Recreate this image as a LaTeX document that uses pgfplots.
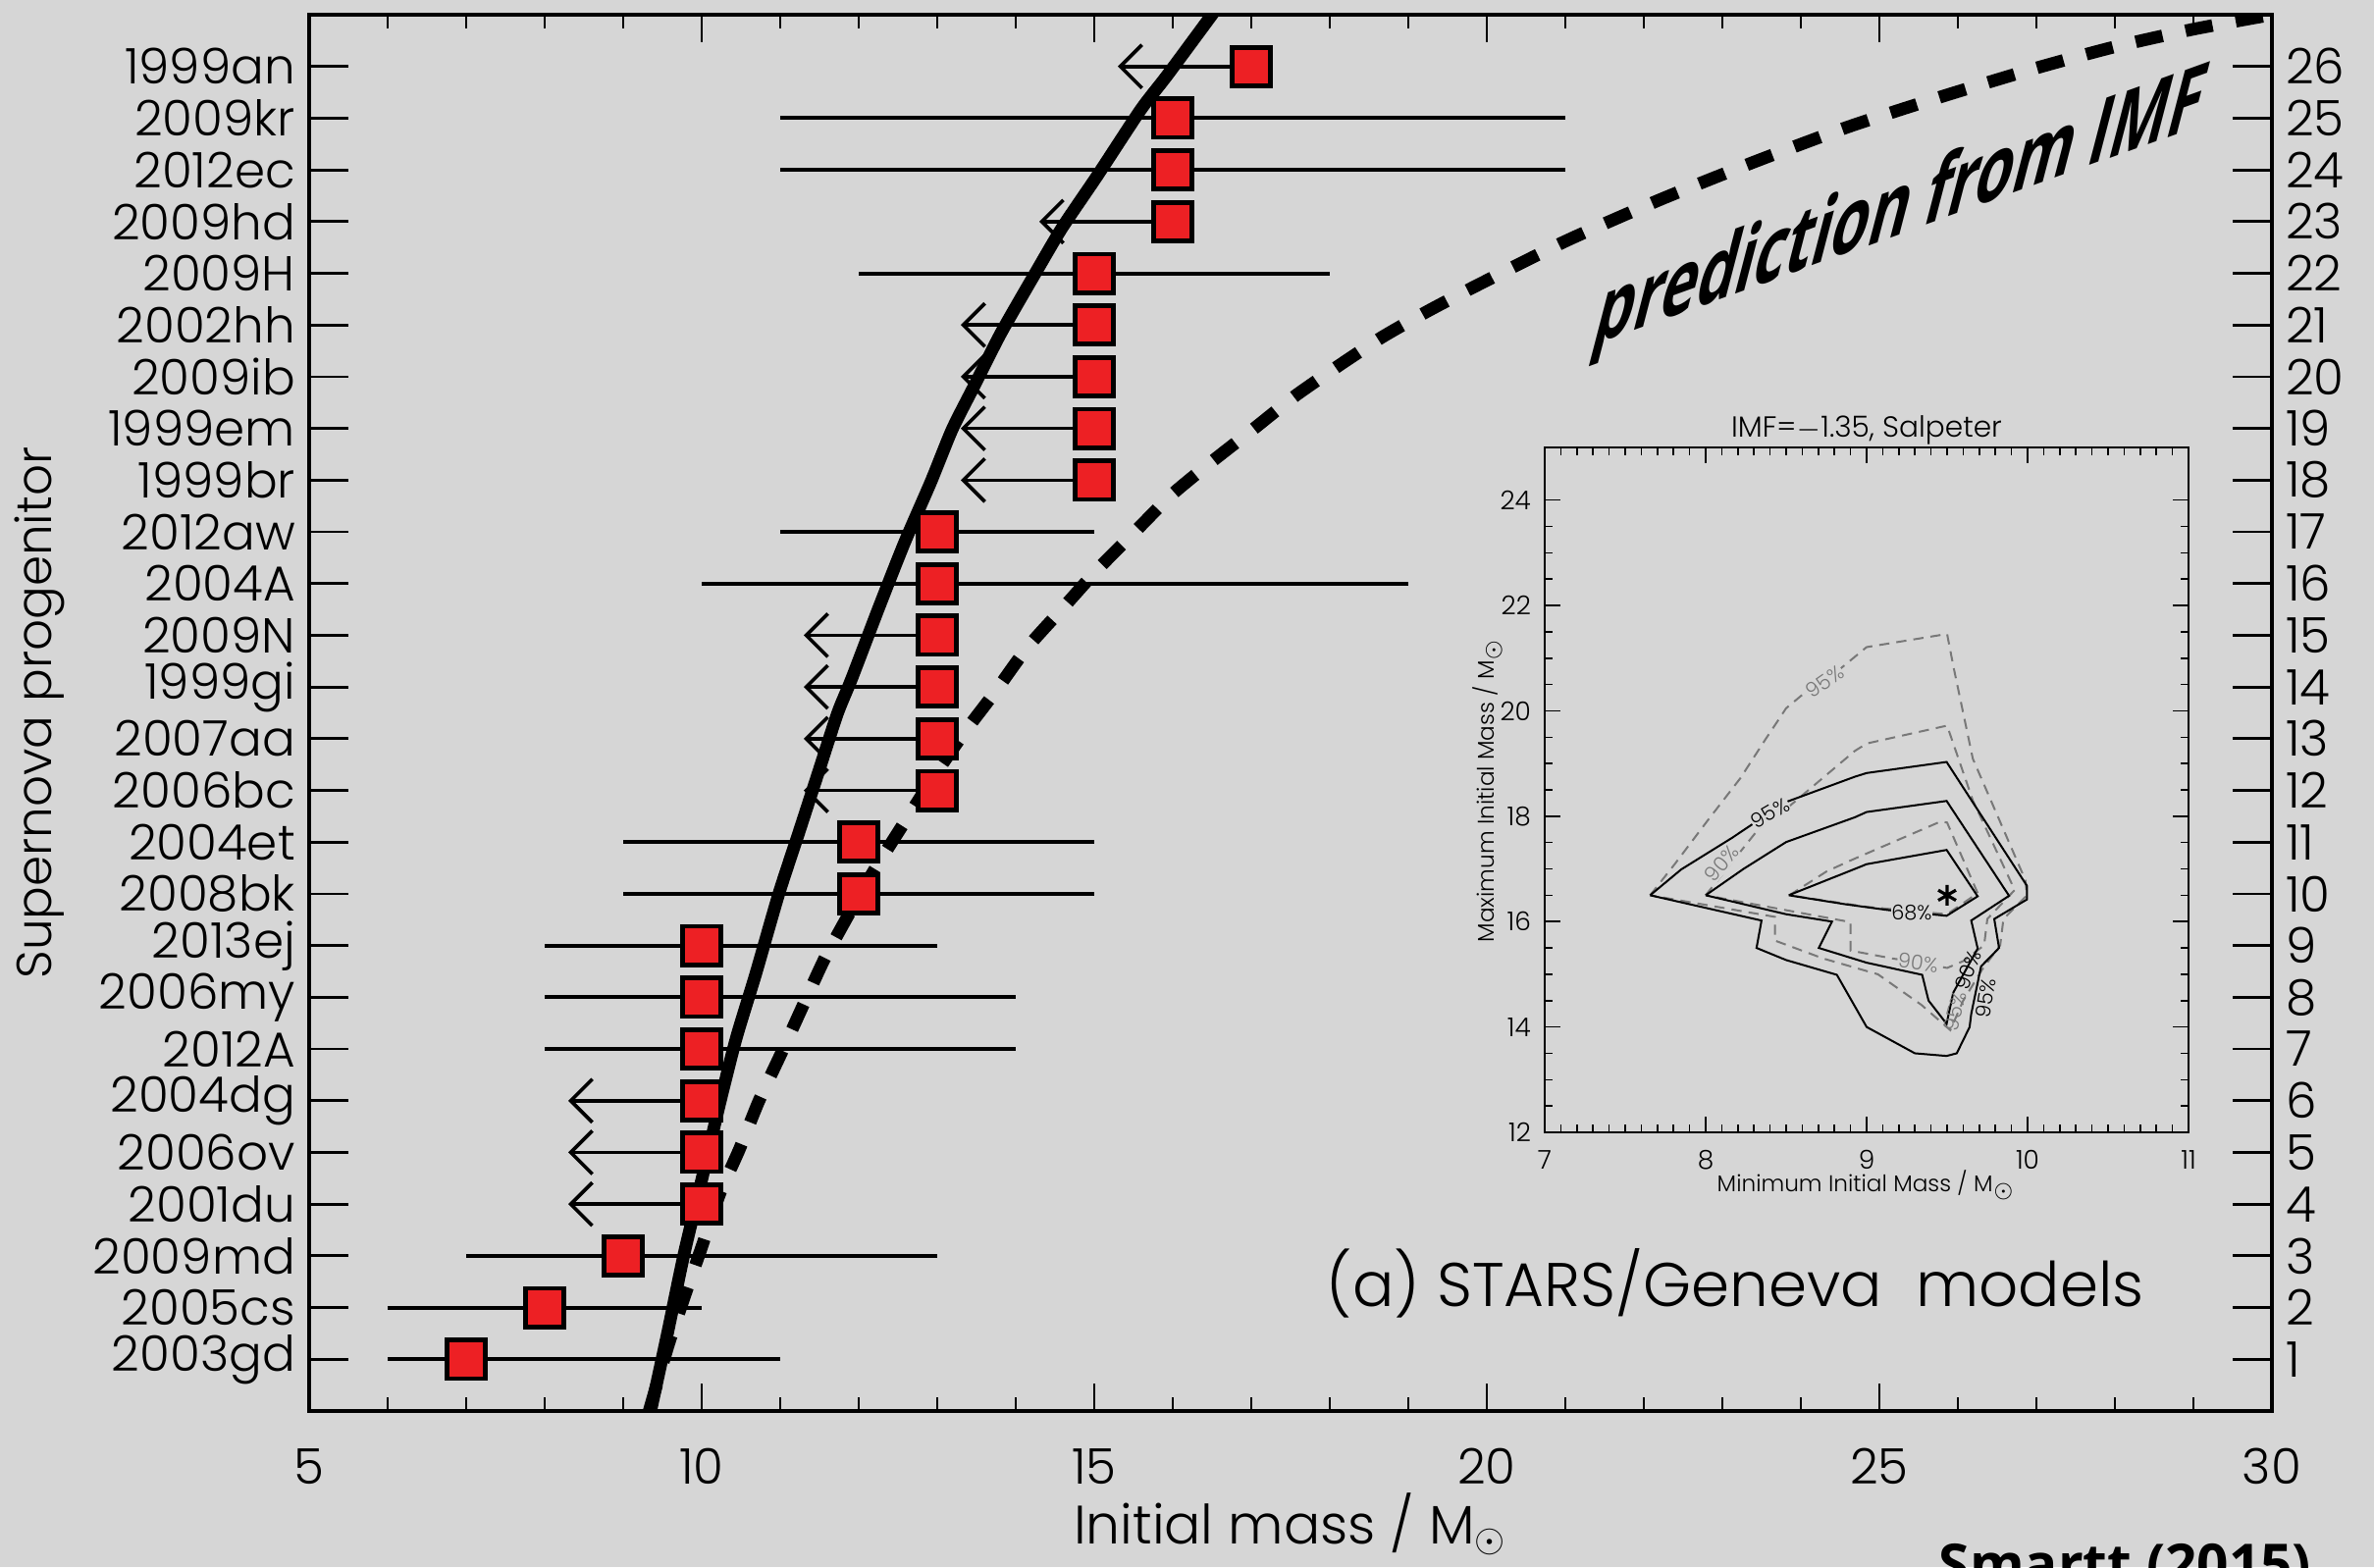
\documentclass[border=0pt]{standalone}
\usepackage{pgfplots}
\pgfplotsset{compat=1.18}
\usepackage{fontspec}
\setmainfont{Poppins Light}
\newfontfamily\osans{Open Sans}
\usetikzlibrary{arrows.meta}
\definecolor{bg}{RGB}{214,214,214}
\definecolor{sqred}{RGB}{237,32,36}
\definecolor{cgray}{RGB}{120,120,120}
\begin{document}
\begin{tikzpicture}
\fill[bg] (0,0) rectangle (604.75pt,399.25pt);
\useasboundingbox (0,0) rectangle (604.75pt,399.25pt);
% ---------------- main axis ----------------
\begin{axis}[
  at={(78.75pt,39.75pt)}, anchor=south west,
  width=500pt, height=355.75pt, scale only axis,
  xmin=5, xmax=30, ymin=0, ymax=27,
  xtick={5,10,15,20,25,30}, minor x tick num=4,
  ytick={1,...,26},
  yticklabels={2003gd,2005cs,2009md,2001du,2006ov,2004dg,2012A,2006my,2013ej,2008bk,2004et,2006bc,2007aa,1999gi,2009N,2004A,2012aw,1999br,1999em,2009ib,2002hh,2009H,2009hd,2012ec,2009kr,1999an},
  tick align=inside, tick pos=both,
  xticklabel pos=bottom, yticklabel pos=left,
  major tick length=10pt,
  tick style={black, line width=0.7pt},
  xtick style={/pgfplots/major tick length=7pt, /pgfplots/minor tick length=3.5pt},
  axis line style={line width=0.8pt},
  tick label style={font=\fontsize{12.5}{14}\selectfont},
  /pgf/number format/assume math mode=true,
  xticklabel style={yshift=-6pt},
  xlabel={Initial mass / M$_\odot$},
  ylabel={Supernova progenitor},
  label style={font=\fontsize{12.5}{14}\selectfont},
  xlabel style={font=\fontsize{13.8}{15}\selectfont, at={(axis description cs:0.5,-0.0949)}, anchor=base},
  ylabel style={at={(axis description cs:-0.1375,0.5)}, anchor=center},
]
% prediction from IMF (dashed)
\addplot[black, line width=3.2pt, dash pattern=on 7pt off 6pt, smooth, tension=0.4] coordinates {
(9.33,0) (9.58,1.3) (9.80,2.3) (10.0,3.17) (10.23,4.2) (10.48,5.06) (10.73,6.0) (11.02,6.94) (11.29,7.84) (11.56,8.73) (11.85,9.54) (12.19,10.44) (12.56,11.33) (12.94,12.23) (13.35,13.13) (13.73,13.89) (14.14,14.75) (14.59,15.51) (15.04,16.27) (15.51,16.99) (15.98,17.71) (16.49,18.35) (17.02,18.98) (17.55,19.62) (18.11,20.21) (18.66,20.76) (19.25,21.27) (19.88,21.77) (21.0,22.62) (22.2,23.42) (23.4,24.15) (24.6,24.83) (25.8,25.42) (27.0,25.97) (28.0,26.38) (29.0,26.72) (30.0,27.0)};
% fitted cumulative (solid)
\addplot[black, line width=3.2pt, smooth, tension=0.4] coordinates {
(9.35,0) (9.56,1.47) (9.77,3.0) (9.98,4.34) (10.23,5.95) (10.44,7.21) (10.69,8.46) (10.98,9.99) (11.23,11.15) (11.48,12.32) (11.73,13.49) (11.91,14.16) (12.25,15.51) (12.58,16.78) (12.92,17.97) (13.19,18.98) (13.47,19.82) (13.81,20.84) (14.26,22.03) (14.59,22.88) (15.04,23.89) (15.59,25.16) (15.93,25.83) (16.49,26.98) (16.55,27.1)};
% two-sided error bars
\addplot[black, line width=1pt, unbounded coords=jump] table {
x y
11 25
21 25
nan nan
11 24
21 24
nan nan
12 22
18 22
nan nan
11 17
15 17
nan nan
10 16
19 16
nan nan
9 11
15 11
nan nan
9 10
15 10
nan nan
8 9
13 9
nan nan
8 8
14 8
nan nan
8 7
14 7
nan nan
7 3
13 3
nan nan
6 2
10 2
nan nan
6 1
11 1
};
% squares
\addplot[only marks, mark=square*, mark size=4.9pt, mark options={fill=sqred, draw=black, line width=1.2pt}] table {
x y
17 26
16 25
16 24
16 23
15 22
15 21
15 20
15 19
15 18
13 17
13 16
13 15
13 14
13 13
13 12
12 11
12 10
10 9
10 8
10 7
10 6
10 5
10 4
9 3
8 2
7 1
};
% upper limits
\addplot[black, line width=0.9pt, -{Straight Barb[length=5.5pt,width=11pt]}, quiver={u=\thisrow{u}, v=0}] table {
x y u
17 26 -1.7
16 23 -1.7
15 21 -1.7
15 20 -1.7
15 19 -1.7
15 18 -1.7
13 15 -1.7
13 14 -1.7
13 13 -1.7
13 12 -1.7
10 6 -1.7
10 5 -1.7
10 4 -1.7
};
\end{axis}
% ---------------- right-hand numbers ----------------
\begin{axis}[
  at={(78.75pt,39.75pt)}, anchor=south west,
  width=500pt, height=355.75pt, scale only axis,
  xmin=5, xmax=30, ymin=0, ymax=27,
  hide x axis, axis y line*=right,
  axis line style={draw=none},
  ytick={1,...,26}, yticklabel pos=right,
  ytick style={draw=none},
  tick label style={font=\fontsize{12.5}{14}\selectfont},
  /pgf/number format/assume math mode=true,
]
\end{axis}
% ---------------- inset ----------------
\begin{axis}[
  at={(393.5pt,110.75pt)}, anchor=south west,
  width=164pt, height=174.5pt, scale only axis,
  xmin=7, xmax=11, ymin=12, ymax=25,
  xtick={7,...,11}, minor x tick num=9,
  ytick={12,14,...,24}, minor y tick num=3,
  tick align=inside, tick pos=both,
  xticklabel pos=bottom, yticklabel pos=left,
  major tick length=4pt, minor tick length=2pt,
  tick style={black, line width=0.4pt},
  axis line style={line width=0.5pt},
  tick label style={font=\fontsize{6.6}{8}\selectfont},
  /pgf/number format/assume math mode=true,
  xticklabel style={yshift=-1pt},
  title={IMF=$-$1.35, Salpeter},
  title style={font=\fontsize{7.4}{8}\selectfont, at={(axis description cs:0.5,1)}, anchor=base, yshift=-3.4pt},
  xlabel={Minimum Initial Mass / M$_\odot$},
  ylabel={Maximum Initial Mass / M$_\odot$},
  label style={font=\fontsize{5.8}{7}\selectfont},
  xlabel style={at={(axis description cs:0.5,-0.087)}, anchor=base},
  ylabel style={at={(axis description cs:-0.089,0.5)}, anchor=center},
]
% dashed (gray) contours
\addplot[cgray, line width=0.5pt, dash pattern=on 2.6pt off 1.8pt] coordinates {
(7.655,16.5) (7.81,17.10) (8.01,17.91) (8.215,18.72) (8.378,19.49) (8.50,20.05) (8.622,20.36) (8.825,20.77) (9.0,21.21) (9.5,21.46) (9.54,20.83) (9.66,19.09) (9.986,16.79) (9.996,16.5) (9.85,16.05) (9.83,15.55) (9.72,15.1) (9.6,14.5) (9.52,13.94) (9.34,14.42) (9.07,15.0) (8.73,15.30) (8.43,15.64) (8.43,16.09) (7.655,16.5)};
\addplot[cgray, line width=0.5pt, dash pattern=on 2.6pt off 1.8pt] coordinates {
(8.0,16.5) (8.19,17.23) (8.337,17.79) (8.52,18.19) (8.927,19.24) (9.0,19.38) (9.5,19.72) (9.66,18.3) (9.92,16.6) (9.75,16.05) (9.73,15.55) (9.6,15.25) (9.5,15.12) (9.33,15.22) (9.16,15.3) (8.90,15.45) (8.90,15.99) (8.0,16.5)};
\addplot[cgray, line width=0.5pt, dash pattern=on 2.6pt off 1.8pt] coordinates {
(8.52,16.5) (8.75,16.95) (8.9,17.16) (9.46,17.9) (9.5,17.88) (9.69,16.54) (9.5,16.14) (9.0,16.28) (8.52,16.5)};
% solid contours
\addplot[black, line width=0.5pt] coordinates {
(7.655,16.50) (7.848,16.99) (8.164,17.59) (8.428,18.13) (8.50,18.27) (8.927,18.75) (9.0,18.82) (9.497,19.03) (9.996,16.68) (9.996,16.42) (9.793,16.05) (9.823,15.50) (9.711,15.15) (9.65,14.25) (9.64,14.0) (9.56,13.5) (9.497,13.45) (9.30,13.5) (9.0,14.0) (8.815,14.99) (8.50,15.27) (8.316,15.50) (8.347,16.02) (7.655,16.50)};
\addplot[black, line width=0.5pt] coordinates {
(8.0,16.5) (8.235,17.0) (8.50,17.51) (8.927,17.98) (9.0,18.08) (9.497,18.29) (9.885,16.49) (9.65,16.02) (9.69,15.49) (9.538,14.65) (9.497,14.06) (9.385,14.50) (9.345,14.99) (9.0,15.22) (8.703,15.50) (8.785,16.0) (8.50,16.14) (8.0,16.5)};
\addplot[black, line width=0.5pt] coordinates {
(8.516,16.5) (8.927,17.0) (9.0,17.09) (9.497,17.36) (9.69,16.48) (9.497,16.11) (9.13,16.22) (8.866,16.33) (8.516,16.5)};
% best fit
\addplot[only marks, mark=asterisk, mark size=2.6pt, mark options={line width=0.8pt, black}] coordinates {(9.5,16.5)};
% contour labels
\begin{scope}[every node/.style={font=\fontsize{5.2}{6}\selectfont, inner sep=0.2pt, fill=bg}]
\node[text=cgray, rotate=35] at (axis cs:8.74,20.55) {95\%};
\node[text=black, rotate=30] at (axis cs:8.40,18.06) {95\%};
\node[text=cgray, rotate=50] at (axis cs:8.10,17.10) {90\%};
\node[text=black] at (axis cs:9.28,16.17) {68\%};
\node[text=cgray, rotate=-8] at (axis cs:9.32,15.22) {90\%};
\node[text=cgray, rotate=75, fill=none] at (axis cs:9.55,14.3) {95\%};
\node[text=black, rotate=70, fill=none] at (axis cs:9.63,15.08) {90\%};
\node[text=black, rotate=80, fill=none] at (axis cs:9.74,14.55) {95\%};
\end{scope}
\end{axis}
% ---------------- free text ----------------
\node[anchor=base west, inner sep=0pt, font=\fontsize{15.7}{18}\selectfont] at (337.75pt,66.5pt) {(a) STARS/Geneva\ \ models};
\node[anchor=base west, inner sep=0pt, cm={0.65,0.235,0.26,1,(0pt,0pt)}] at (405pt,311pt) {\osans\bfseries\fontsize{24}{28}\selectfont prediction from IMF};
\node[anchor=base west, inner sep=0pt] at (493.75pt,-4.4pt) {\osans\bfseries\fontsize{14.2}{16}\selectfont Smartt (2015)};
\end{tikzpicture}
\end{document}
